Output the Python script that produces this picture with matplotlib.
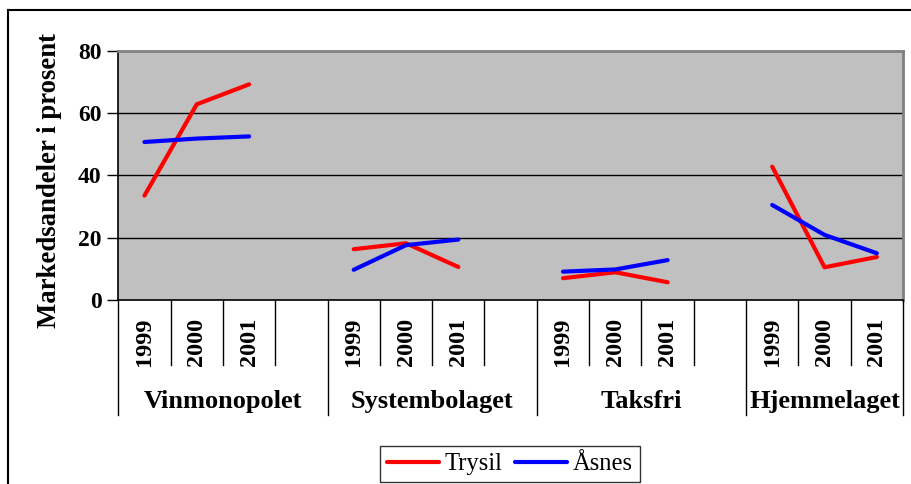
import matplotlib
matplotlib.use('Agg')
import matplotlib.pyplot as plt
from matplotlib.lines import Line2D

groups = ["Vinmonopolet", "Systembolaget", "Taksfri", "Hjemmelaget"]
years = ["1999", "2000", "2001"]
trysil = [[33.5, 62.8, 69.2], [16.3, 18.2, 10.6], [7.0, 8.9, 5.7], [42.8, 10.5, 13.8]]
asnes = [[50.7, 51.8, 52.5], [9.7, 17.6, 19.4], [9.1, 9.8, 12.8], [30.5, 20.9, 15.0]]
series_names = ["Trysil", "Åsnes"]
series_colors = ["#FF0000", "#0000FF"]
yticks = [0, 20, 40, 60, 80]
ylabel = "Markedsandeler i prosent"

plt.rcParams['font.family'] = ['Liberation Serif', 'DejaVu Serif']

W, H = 912, 484
fig = plt.figure(figsize=(W / 100, H / 100), dpi=100)
x0, x1, ytop, ybot = 118.3, 903.0, 50.7, 300.0
ax = fig.add_axes([x0 / W, 1 - ybot / H, (x1 - x0) / W, (ybot - ytop) / H])
ax.set_facecolor('#C0C0C0')

slots_per_group = len(years) + 1
n_slots = slots_per_group * len(groups) - 1
ax.set_xlim(0, n_slots)
ax.set_ylim(0, 80)

for yv in yticks[1:-1]:
    ax.axhline(yv, color='black', lw=1.0, zorder=1)

for data, name, col in zip([trysil, asnes], series_names, series_colors):
    for g, vals in enumerate(data):
        xs = [g * slots_per_group + j + 0.5 for j in range(len(vals))]
        ax.plot(xs, vals, color=col, lw=3.0, solid_capstyle='round',
                solid_joinstyle='round', zorder=3,
                label=name if g == 0 else None)

ax.spines['left'].set_color('black')
ax.spines['left'].set_linewidth(1.2)
ax.spines['bottom'].set_color('black')
ax.spines['bottom'].set_linewidth(1.2)
for s in ['top', 'right']:
    ax.spines[s].set_color('#808080')
    ax.spines[s].set_linewidth(2.0)

ax.set_yticks(yticks)
ax.set_yticklabels([str(t) for t in yticks], fontsize=17, fontweight='bold')
ax.tick_params(axis='y', direction='out', length=8, width=1.0, pad=4)
ax.set_xticks([])

fig.text(50 / W, 1 - 180 / H, ylabel, rotation=90, ha='center', va='center',
         fontsize=19.3, fontweight='bold')

# category axis separators and labels
hpx = ybot - ytop
short_y = -(365 - ybot) / hpx
long_y = -(415 - ybot) / hpx
trans = ax.get_xaxis_transform()
for k in range(0, n_slots + 1):
    is_long = (k % slots_per_group == 0) or k == n_slots
    ax.plot([k, k], [0, long_y if is_long else short_y], transform=trans,
            color='black', lw=1.0, clip_on=False, zorder=5)

year_y = -(341.5 - ybot) / hpx
group_y = -(408 - ybot) / hpx
for g, gname in enumerate(groups):
    for j, yr in enumerate(years):
        ax.text(g * slots_per_group + j + 0.5, year_y, yr, transform=trans,
                rotation=90, ha='center', va='center', fontsize=17.5,
                fontweight='bold')
    start = g * slots_per_group
    end = min(start + slots_per_group, n_slots)
    ax.text((start + end) / 2, group_y, gname, transform=trans,
            ha='center', va='baseline', fontsize=19, fontweight='bold')

# outer frame (partially clipped)
fig.add_artist(Line2D([8.5 / W, 8.5 / W], [0, 1 - 9.5 / H], transform=fig.transFigure,
                      color='black', lw=1.5))
fig.add_artist(Line2D([8.5 / W, 1], [1 - 9.5 / H, 1 - 9.5 / H], transform=fig.transFigure,
                      color='black', lw=1.5))

handles, labels = ax.get_legend_handles_labels()
leg = fig.legend(handles, labels, loc='center', bbox_to_anchor=(510 / W, 1 - 464 / H),
                 ncol=2, fontsize=17.7, frameon=True, fancybox=False,
                 edgecolor='black', handlelength=2.1, handletextpad=0.25,
                 columnspacing=0.5, borderpad=0.3)
leg.get_frame().set_linewidth(1.0)

fig.savefig('out.png', dpi=100)
